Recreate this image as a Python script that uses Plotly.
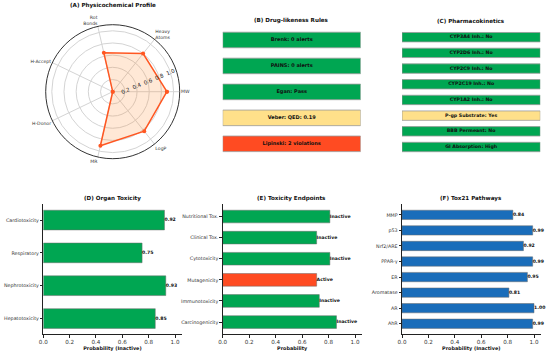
import plotly.graph_objects as go

# ---------------- data ----------------
radar_labels = ["MW", "Heavy<br>Atoms", "Rot<br>Bonds", "H-Accept", "H-Donor", "MR", "LogP"]
radar_values = [0.89, 0.80, 0.655, 0.0, 0.0, 0.91, 0.83]
radar_ticks = [0.2, 0.4, 0.6, 0.8, 1.0]

rules_labels = ["Brenk: 0 alerts", "PAINS: 0 alerts", "Egan: Pass", "Veber: QED: 0.19", "Lipinski: 2 violations"]
rules_status = ["pass", "pass", "pass", "warn", "fail"]

pk_labels = ["CYP3A4 Inh.: No", "CYP2D6 Inh.: No", "CYP2C9 Inh.: No", "CYP2C19 Inh.: No",
             "CYP1A2 Inh.: No", "P-gp Substrate: Yes", "BBB Permeant: No", "GI Absorption: High"]
pk_status = ["pass", "pass", "pass", "pass", "pass", "warn", "pass", "pass"]

organ_labels = ["Cardiotoxicity", "Respiratory", "Nephrotoxicity", "Hepatotoxicity"]
organ_values = [0.92, 0.75, 0.93, 0.85]

endpoint_labels = ["Nutritional Tox.", "Clinical Tox.", "Cytotoxicity", "Mutagenicity", "Immunotoxicity", "Carcinogenicity"]
endpoint_values = [0.81, 0.71, 0.81, 0.71, 0.73, 0.86]
endpoint_calls = ["Inactive", "Inactive", "Inactive", "Active", "Inactive", "Inactive"]

tox21_labels = ["MMP", "p53", "Nrf2/ARE", "PPAR-γ", "ER", "Aromatase", "AR", "AhR"]
tox21_values = [0.84, 0.99, 0.92, 0.99, 0.95, 0.81, 1.00, 0.99]

xticks = [0.0, 0.2, 0.4, 0.6, 0.8, 1.0]

# ---------------- styles ----------------
GREEN = "#00A652"
YELLOW = "#FFE08A"
RED = "#FF4B22"
BLUE = "#1A6DBA"
ORANGE = "#FF5722"
status_color = {"pass": GREEN, "warn": YELLOW, "fail": RED}
FONT = "DejaVu Sans"
W, H = 550, 354

def px_x(a, b):
    return [a / W, b / W]

def px_y(top, bottom):
    return [(H - bottom) / H, (H - top) / H]

fig = go.Figure()

# ---------------- (A) radar ----------------
n = len(radar_labels)
angles = [i * 360.0 / n for i in range(n)]
fig.add_trace(go.Scatterpolar(
    r=radar_values + radar_values[:1],
    theta=angles + angles[:1],
    mode="lines+markers",
    fill="toself",
    fillcolor="rgba(255,140,50,0.2)",
    line=dict(color=ORANGE, width=1.5),
    marker=dict(color=ORANGE, size=4),
    showlegend=False, hoverinfo="skip",
))
cx, cy, rad = 112.7, 91.7, 67
fig.update_layout(polar=dict(
    domain=dict(x=px_x(cx - rad, cx + rad), y=px_y(cy - rad, cy + rad)),
    bgcolor="white",
    angularaxis=dict(
        tickmode="array", tickvals=angles, ticktext=radar_labels,
        direction="counterclockwise", rotation=0,
        showline=True, linecolor="#333", linewidth=1,
        gridcolor="#d4d4d4", gridwidth=0.8, ticks="",
        tickfont=dict(family=FONT, size=4.6, color="#333"),
    ),
    radialaxis=dict(
        range=[0, 1.1], tickmode="array", tickvals=radar_ticks,
        ticktext=[f"{v:.1f}" for v in radar_ticks],
        angle=22.5, tickangle=0, showline=False, ticks="",
        gridcolor="#d4d4d4", gridwidth=0.8,
        tickfont=dict(family=FONT, size=5.5, color="#222"),
    ),
))

# ---------------- (B) and (C) rule boxes ----------------
def box_panel(labels, status, xa, ya, textsize):
    fig.add_trace(go.Bar(
        x=[1] * len(labels), y=labels, orientation="h", width=0.6,
        marker=dict(color=[status_color[s] for s in status], line=dict(color="#9a9a9a", width=0.8)),
        xaxis=xa, yaxis=ya, showlegend=False, hoverinfo="skip",
    ))
    fig.add_trace(go.Scatter(
        x=[0.5] * len(labels), y=labels, mode="text", text=labels,
        textposition="middle center",
        textfont=dict(family=FONT, size=textsize, color="#111", weight="bold"),
        xaxis=xa, yaxis=ya, showlegend=False, hoverinfo="skip", cliponaxis=False,
    ))

box_panel(rules_labels, rules_status, "x", "y", 5.0)
box_panel(pk_labels, pk_status, "x2", "y2", 4.7)

hidden = dict(visible=False, showgrid=False, zeroline=False, automargin=False)
fig.update_layout(
    xaxis=dict(domain=px_x(222.7, 360.7), range=[0, 1], anchor="y", **hidden),
    yaxis=dict(domain=px_y(27.0, 156.8), range=[4.5, -0.5], anchor="x",
               categoryorder="array", categoryarray=rules_labels, **hidden),
    xaxis2=dict(domain=px_x(402.0, 540.3), range=[0, 1], anchor="y2", **hidden),
    yaxis2=dict(domain=px_y(29.35, 154.85), range=[7.5, -0.5], anchor="x2",
                categoryorder="array", categoryarray=pk_labels, **hidden),
)

# ---------------- (D), (E), (F) bar charts ----------------
def bar_panel(labels, values, colors, texts, xa, ya):
    fig.add_trace(go.Bar(
        x=values, y=labels, orientation="h", width=0.6,
        marker=dict(color=colors, line=dict(color="#6a6a6a", width=0.5)),
        xaxis=xa, yaxis=ya, showlegend=False, hoverinfo="skip",
    ))
    fig.add_trace(go.Scatter(
        x=values, y=labels, mode="text", text=texts, textposition="middle right",
        textfont=dict(family=FONT, size=4.6, color="#111", weight="bold"),
        xaxis=xa, yaxis=ya, showlegend=False, hoverinfo="skip", cliponaxis=False,
    ))

bar_panel(organ_labels, organ_values, [GREEN] * len(organ_labels),
          [f"{v:.2f}" for v in organ_values], "x3", "y3")
bar_panel(endpoint_labels, endpoint_values,
          [RED if c == "Active" else GREEN for c in endpoint_calls], endpoint_calls, "x4", "y4")
bar_panel(tox21_labels, tox21_values, [BLUE] * len(tox21_labels),
          [f"{v:.2f}" for v in tox21_values], "x5", "y5")

def xax(dom, anchor, title):
    return dict(domain=dom, range=[0, 1.05], anchor=anchor, tickmode="array", tickvals=xticks,
                ticktext=[f"{v:.1f}" for v in xticks], showgrid=False, zeroline=False,
                showline=True, linecolor="#222", linewidth=0.8, ticks="outside", ticklen=2.5,
                tickwidth=0.8, tickcolor="#222", automargin=False,
                tickfont=dict(family=FONT, size=5.6, color="#333"),
                title=dict(text=title, standoff=2,
                           font=dict(family=FONT, size=4.9, color="#111", weight="bold")))

def yax(dom, anchor, labels, half):
    return dict(domain=dom, range=[len(labels) - 1 + half, -half], anchor=anchor,
                categoryorder="array", categoryarray=labels, showgrid=False, zeroline=False,
                showline=True, linecolor="#222", linewidth=0.8, ticks="outside", ticklen=2.5,
                tickwidth=0.8, tickcolor="#222", automargin=False,
                tickfont=dict(family=FONT, size=4.8, color="#333"))

ydom = px_y(204.3, 334.3)
fig.update_layout(
    xaxis3=xax(px_x(43.3, 43.3 + 1.05 * 131.7), "y3", "Probability (Inactive)"),
    yaxis3=yax(ydom, "x3", organ_labels, 0.48),
    xaxis4=xax(px_x(222.7, 222.7 + 1.05 * 132.3), "y4", "Probability"),
    yaxis4=yax(ydom, "x4", endpoint_labels, 0.58),
    xaxis5=xax(px_x(402.0, 402.0 + 1.05 * 132.0), "y5", "Probability (Inactive)"),
    yaxis5=yax(ydom, "x5", tox21_labels, 0.68),
)

# ---------------- titles ----------------
titles = [("(A) Physicochemical Profile", 112.5, 5.5),
          ("(B) Drug-likeness Rules", 291.7, 21.0),
          ("(C) Pharmacokinetics", 471.0, 21.0),
          ("(D) Organ Toxicity", 112.7, 198.3),
          ("(E) Toxicity Endpoints", 291.7, 198.3),
          ("(F) Tox21 Pathways", 471.0, 198.3)]
for text, x, y in titles:
    fig.add_annotation(text=text, x=x / W, y=(H - y) / H, xref="paper", yref="paper",
                       xanchor="center", yanchor="middle", showarrow=False,
                       font=dict(family=FONT, size=5.6, color="#111", weight="bold"))

fig.update_layout(
    width=W, height=H, margin=dict(l=0, r=0, t=0, b=0),
    paper_bgcolor="white", plot_bgcolor="white",
    font=dict(family=FONT, color="#222"),
    bargap=0.4, showlegend=False,
)

fig.write_html("out.html", config={"displayModeBar": False},
               post_script="document.body.style.margin='0';document.body.style.padding='0';")
